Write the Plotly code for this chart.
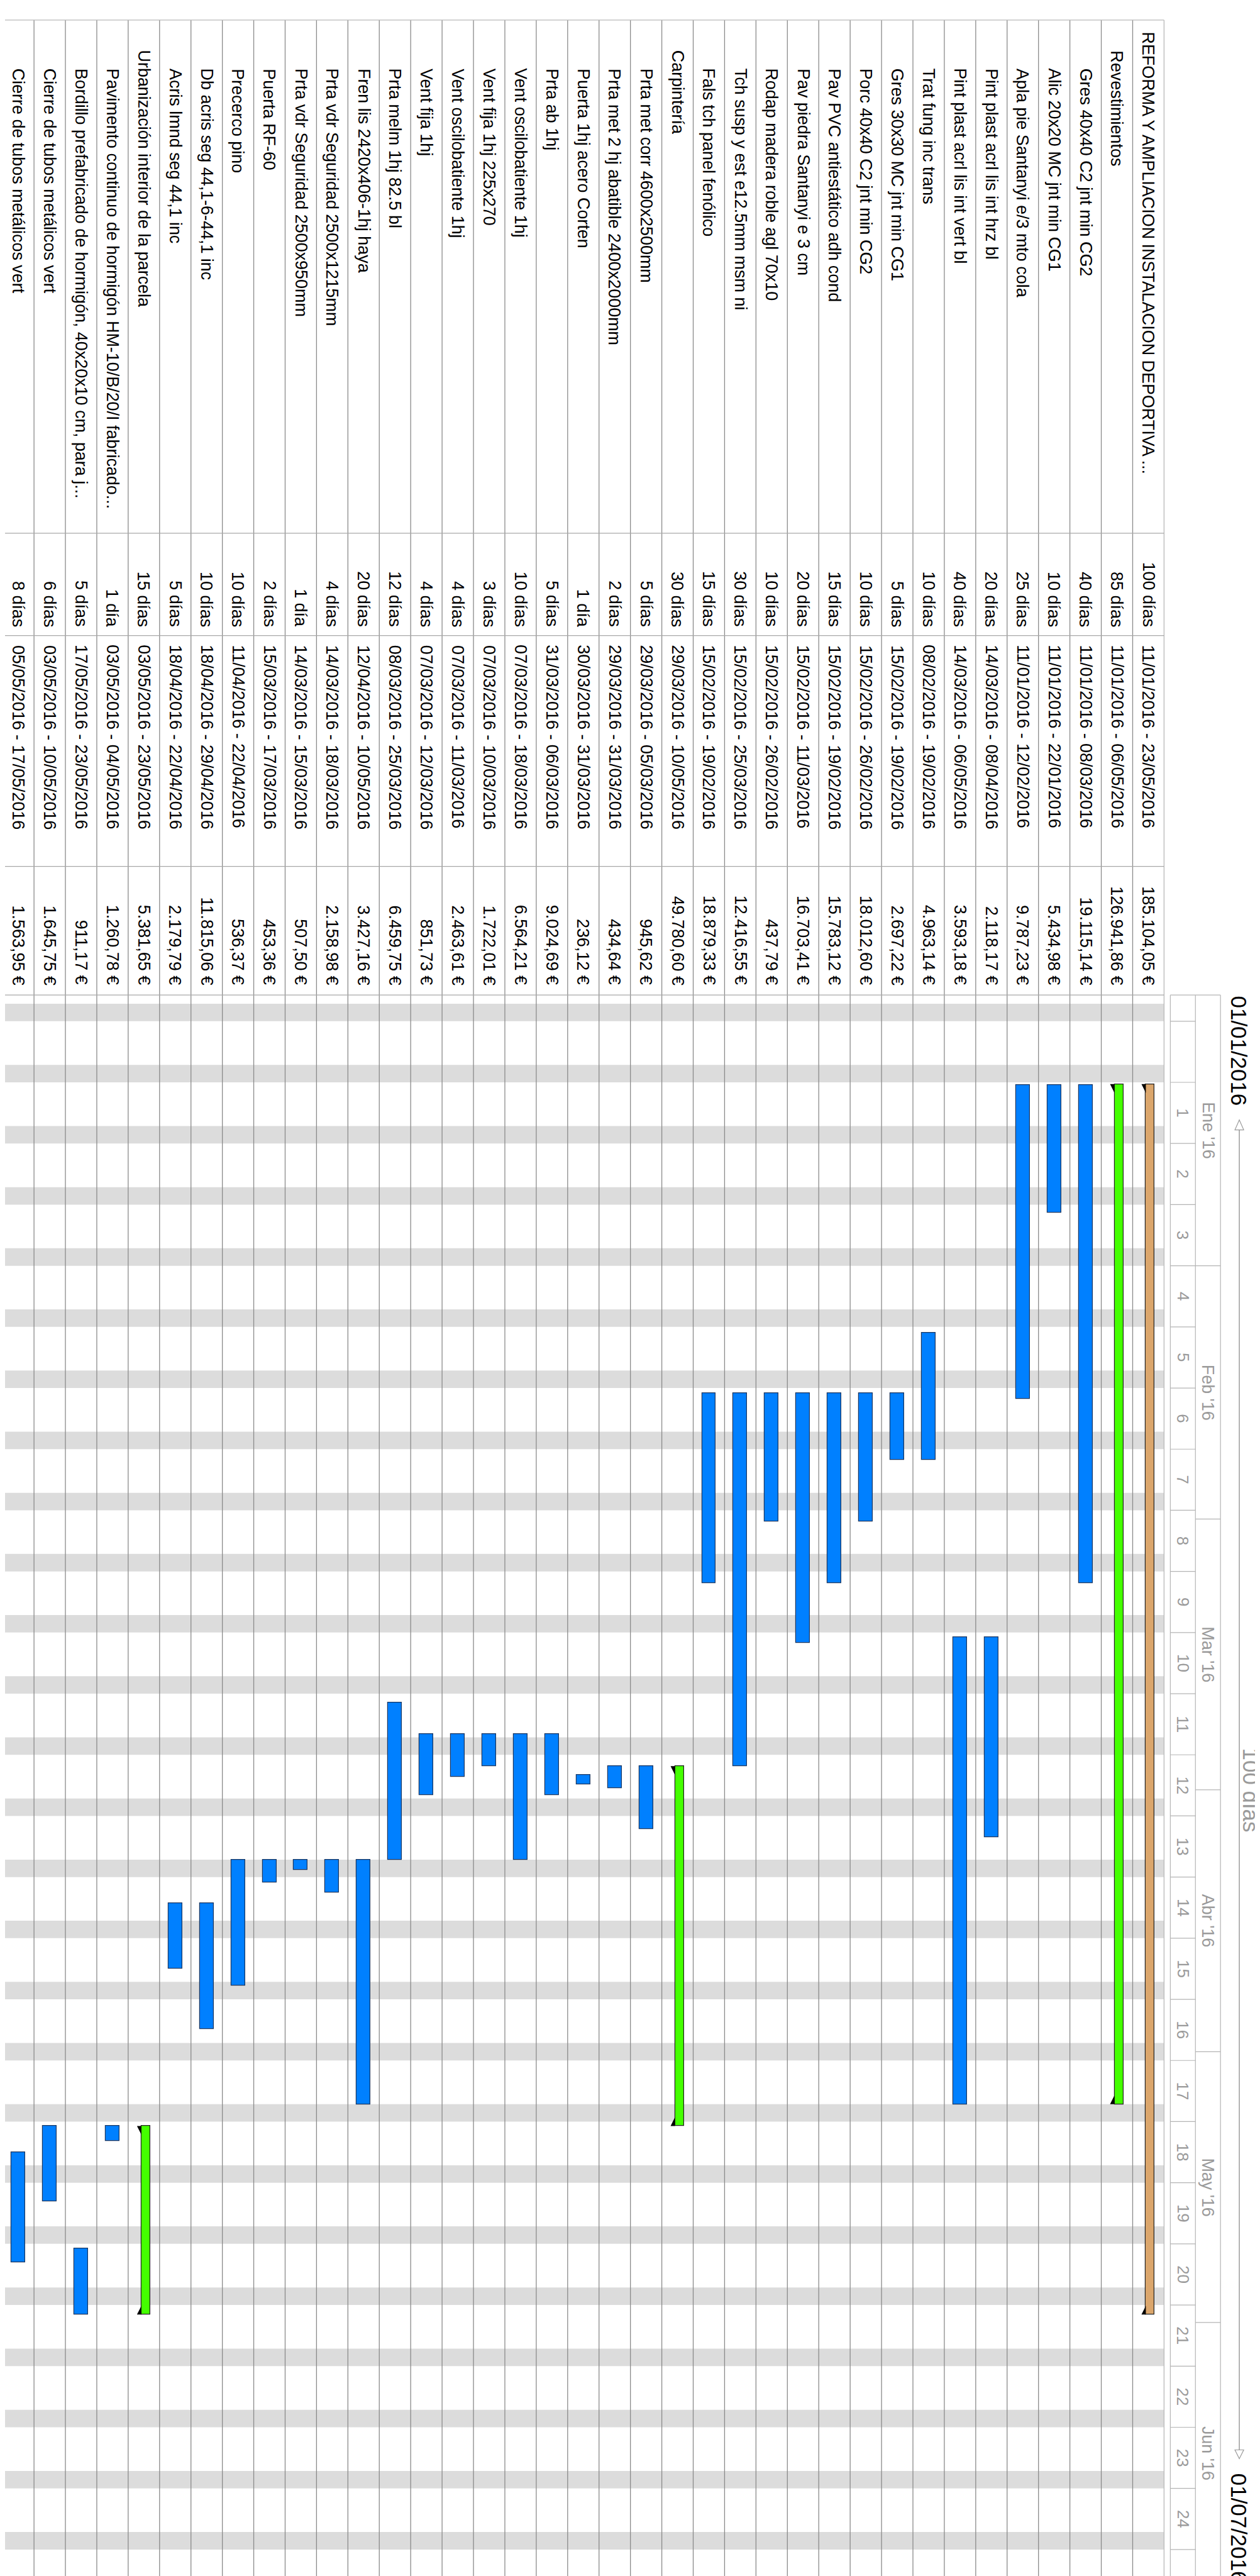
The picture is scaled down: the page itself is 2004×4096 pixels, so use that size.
import plotly.graph_objects as go
import pandas as pd

# ---------------- data ----------------
task_names = [
    "REFORMA Y AMPLIACION INSTALACION DEPORTIVA ...",
    "Revestimientos",
    "Gres 40x40 C2 jnt min CG2",
    "Alic 20x20 MC jnt min CG1",
    "Apla pie Santanyi e/3 mto cola",
    "Pint plast acrl lis int hrz bl",
    "Pint plast acrl lis int vert bl",
    "Trat fung inc trans",
    "Gres 30x30 MC jnt min CG1",
    "Porc 40x40 C2 jnt min CG2",
    "Pav PVC antiestático adh cond",
    "Pav piedra Santanyi e 3 cm",
    "Rodap madera roble agl 70x10",
    "Tch susp y est e12.5mm msm ni",
    "Fals tch panel fenólico",
    "Carpintería",
    "Prta met corr 4600x2500mm",
    "Prta met 2 hj abatible 2400x2000mm",
    "Puerta 1hj acero Corten",
    "Prta ab 1hj",
    "Vent oscilobatiente 1hj",
    "Vent fija 1hj 225x270",
    "Vent oscilobatiente 1hj",
    "Vent fija 1hj",
    "Prta melm 1hj 82.5 bl",
    "Fren lis 2420x406-1hj haya",
    "Prta vdr Seguridad 2500x1215mm",
    "Prta vdr Seguridad 2500x950mm",
    "Puerta RF-60",
    "Precerco pino",
    "Db acris seg 44,1-6-44,1 inc",
    "Acris lmnd seg 44,1 inc",
    "Urbanización interior de la parcela",
    "Pavimento continuo de hormigón HM-10/B/20/I fabricado...",
    "Bordillo prefabricado de hormigón, 40x20x10 cm, para j...",
    "Cierre de tubos metálicos vert",
    "Cierre de tubos metálicos vert",
]
task_levels = [0, 1] + [2] * 13 + [1] + [2] * 16 + [1] + [2] * 4
task_durations = [
    "100 días", "85 días", "40 días", "10 días", "25 días", "20 días", "40 días",
    "10 días", "5 días", "10 días", "15 días", "20 días", "10 días", "30 días",
    "15 días", "30 días", "5 días", "2 días", "1 día", "5 días", "10 días",
    "3 días", "4 días", "4 días", "12 días", "20 días", "4 días", "1 día",
    "2 días", "10 días", "10 días", "5 días", "15 días", "1 día", "5 días",
    "6 días", "8 días",
]
task_dates = [
    "11/01/2016 - 23/05/2016", "11/01/2016 - 06/05/2016", "11/01/2016 - 08/03/2016",
    "11/01/2016 - 22/01/2016", "11/01/2016 - 12/02/2016", "14/03/2016 - 08/04/2016",
    "14/03/2016 - 06/05/2016", "08/02/2016 - 19/02/2016", "15/02/2016 - 19/02/2016",
    "15/02/2016 - 26/02/2016", "15/02/2016 - 19/02/2016", "15/02/2016 - 11/03/2016",
    "15/02/2016 - 26/02/2016", "15/02/2016 - 25/03/2016", "15/02/2016 - 19/02/2016",
    "29/03/2016 - 10/05/2016", "29/03/2016 - 05/03/2016", "29/03/2016 - 31/03/2016",
    "30/03/2016 - 31/03/2016", "31/03/2016 - 06/03/2016", "07/03/2016 - 18/03/2016",
    "07/03/2016 - 10/03/2016", "07/03/2016 - 11/03/2016", "07/03/2016 - 12/03/2016",
    "08/03/2016 - 25/03/2016", "12/04/2016 - 10/05/2016", "14/03/2016 - 18/03/2016",
    "14/03/2016 - 15/03/2016", "15/03/2016 - 17/03/2016", "11/04/2016 - 22/04/2016",
    "18/04/2016 - 29/04/2016", "18/04/2016 - 22/04/2016", "03/05/2016 - 23/05/2016",
    "03/05/2016 - 04/05/2016", "17/05/2016 - 23/05/2016", "03/05/2016 - 10/05/2016",
    "05/05/2016 - 17/05/2016",
]
task_costs = [
    "185.104,05 €", "126.941,86 €", "19.115,14 €", "5.434,98 €", "9.787,23 €",
    "2.118,17 €", "3.593,18 €", "4.963,14 €", "2.697,22 €", "18.012,60 €",
    "15.783,12 €", "16.703,41 €", "437,79 €", "12.416,55 €", "18.879,33 €",
    "49.780,60 €", "945,62 €", "434,64 €", "236,12 €", "9.024,69 €",
    "6.564,21 €", "1.722,01 €", "2.463,61 €", "851,73 €", "6.459,75 €",
    "3.427,16 €", "2.158,98 €", "507,50 €", "453,36 €", "536,37 €",
    "11.815,06 €", "2.179,79 €", "5.381,65 €", "1.260,78 €", "911,17 €",
    "1.645,75 €", "1.563,95 €",
]
bar_kind = (["root", "summary"] + ["task"] * 13 + ["summary"] + ["task"] * 16
            + ["summary"] + ["task"] * 4)
# drawn bar extent, in days after 01/01/2016 (as seen in the picture)
bar_start_day = [
    10.2, 10.2, 10.3, 10.3, 10.3, 73.5, 73.5, 38.7, 45.6, 45.6, 45.6, 45.6, 45.6,
    45.6, 45.6, 88.3, 88.3, 88.3, 89.3, 84.6, 84.6, 84.6, 84.6, 84.6, 81.0, 99.0,
    99.0, 99.0, 99.0, 99.0, 104.0, 104.0, 129.5, 129.5, 143.5, 129.5, 132.5,
]
bar_end_day = [
    151.1, 127.0, 67.3, 24.9, 46.2, 96.4, 127.0, 53.2, 53.2, 60.3, 67.3, 74.2, 60.3,
    88.3, 67.3, 129.5, 95.5, 90.8, 90.4, 91.6, 99.0, 88.3, 89.5, 91.6, 99.0, 127.0,
    102.8, 100.2, 101.6, 113.4, 118.4, 111.5, 151.1, 131.2, 151.1, 138.1, 145.1,
]

week_labels = [str(k) for k in range(1, 25)]
first_week_date = "2016-01-11"   # week "1"
month_labels = ["Ene '16", "Feb '16", "Mar '16", "Abr '16", "May '16", "Jun '16"]
chart_start = "2016-01-01"
chart_end = "2016-07-01"
timeline_start_label = "01/01/2016"
timeline_end_label = "01/07/2016"
timeline_duration_label = "100 días"

# ---------------- layout constants (reference pixels) ----------------
REF_W, REF_H = 2009, 4106
OUT_W, OUT_H = 2004, 4096
S = OUT_W / REF_W
TABLE_RIGHT = 1848
ROW_PX = 50.05
GANTT_TOP = 1578
DAY_PX = 13.92
TABLE_TOP = 24
COL_LINES = [842, 1005, 1373, 1578]
NAME_START = {0: 42, 1: 71, 2: 100}
DUR_END = 992
DATE_START = 1019
COST_END = 1563
WEEK_COL = (1858, 1898)
MONTH_COL = (1898, 1938)
TL_X = 1968

FONT = "Liberation Sans, Arial, Helvetica, sans-serif"
FS = 27 * S
GRAY_TXT = "#9a9a9a"


def px(p):
    return p / REF_W


def py(p):
    return 1 - p / REF_H


t0 = pd.Timestamp(chart_start)
n_rows = len(task_names)
rows = list(range(n_rows))

fig = go.Figure()

# bars
colors = {"root": "#dba66c", "summary": "#44ff00", "task": "#0080ff"}
for kind in ["root", "summary", "task"]:
    idx = [i for i in rows if bar_kind[i] == kind]
    if kind == "task":
        width, offset, lc = 0.44, -0.22, "#1a3660"
    else:
        width, offset, lc = 0.28, -0.20, "#222222"
    fig.add_trace(go.Bar(
        x=idx,
        y=[bar_end_day[i] - bar_start_day[i] for i in idx],
        base=[bar_start_day[i] for i in idx],
        width=width, offset=offset,
        marker=dict(color=colors[kind], line=dict(color=lc, width=1.2)),
        hoverinfo="skip",
    ))

# summary end triangles
tx, ty = [], []
for i in rows:
    if bar_kind[i] == "task":
        continue
    s, e = bar_start_day[i], bar_end_day[i]
    tx += [i + 0.22, i + 0.08, i + 0.08, i + 0.22, None]
    ty += [s, s, s + 1.0, s, None]
    tx += [i + 0.08, i + 0.08, i + 0.22, i + 0.08, None]
    ty += [e - 1.0, e, e, e - 1.0, None]
fig.add_trace(go.Scatter(x=tx, y=ty, mode="lines", fill="toself",
                         fillcolor="#000000", line=dict(width=0, color="#000000"),
                         hoverinfo="skip"))

shapes = []
# weekend stripes
for d in pd.date_range(chart_start, chart_end):
    if d.dayofweek == 5:
        dd = (d - t0).days
        shapes.append(dict(type="rect", xref="paper", yref="y",
                           x0=0, x1=px(TABLE_RIGHT), y0=dd, y1=dd + 2,
                           fillcolor="#dcdcdc", line=dict(width=0), layer="below"))
# row separators (table + gantt)
for b in range(n_rows + 1):
    shapes.append(dict(type="line", xref="x", yref="paper",
                       x0=b - 0.5, x1=b - 0.5, y0=py(TABLE_TOP), y1=0,
                       line=dict(color="#b8b8b8" if b == 0 else "#8a8a8a", width=1.3 * S),
                       layer="below"))
# table column lines
shapes.append(dict(type="line", xref="paper", yref="paper", x0=0, x1=px(TABLE_RIGHT),
                   y0=py(TABLE_TOP), y1=py(TABLE_TOP),
                   line=dict(color="#b8b8b8", width=1.3 * S)))
for c in COL_LINES:
    shapes.append(dict(type="line", xref="paper", yref="paper", x0=0, x1=px(TABLE_RIGHT),
                       y0=py(c), y1=py(c), line=dict(color="#a8a8a8", width=1.3 * S)))

# header box
hdr_line = dict(color="#b4b4b4", width=1.2 * S)
for xx in [WEEK_COL[0], WEEK_COL[1], MONTH_COL[1]]:
    shapes.append(dict(type="line", xref="paper", yref="paper", x0=px(xx), x1=px(xx),
                       y0=py(GANTT_TOP), y1=0, line=hdr_line))
shapes.append(dict(type="line", xref="paper", yref="paper", x0=px(WEEK_COL[0]),
                   x1=px(MONTH_COL[1]), y0=py(GANTT_TOP), y1=py(GANTT_TOP), line=hdr_line))
fw = (pd.Timestamp(first_week_date) - t0).days
week_bounds = [fw - 7] + [fw + 7 * k for k in range(0, 25)]
for wb in week_bounds:
    shapes.append(dict(type="line", xref="paper", yref="y", x0=px(WEEK_COL[0]),
                       x1=px(WEEK_COL[1]), y0=wb, y1=wb, line=hdr_line))
month_starts = [(pd.Timestamp(f"2016-{m:02d}-01") - t0).days for m in range(1, 8)]
for mb in month_starts[1:]:
    shapes.append(dict(type="line", xref="paper", yref="y", x0=px(MONTH_COL[0]),
                       x1=px(MONTH_COL[1]), y0=mb, y1=mb, line=hdr_line))

# timeline arrow
tl_top, tl_bot = 1793, 3897
shapes.append(dict(type="line", xref="paper", yref="paper", x0=px(TL_X), x1=px(TL_X),
                   y0=py(tl_top), y1=py(tl_bot), line=dict(color="#9a9a9a", width=1.5 * S)))
shapes.append(dict(type="path", xref="paper", yref="paper",
                   path=f"M {px(TL_X)} {py(1777)} L {px(TL_X - 7)} {py(tl_top)} L {px(TL_X + 7)} {py(tl_top)} Z",
                   fillcolor="white", line=dict(color="#9a9a9a", width=1.2 * S)))
shapes.append(dict(type="path", xref="paper", yref="paper",
                   path=f"M {px(TL_X)} {py(3911)} L {px(TL_X - 7)} {py(tl_bot)} L {px(TL_X + 7)} {py(tl_bot)} Z",
                   fillcolor="white", line=dict(color="#9a9a9a", width=1.2 * S)))

annotations = []


def rot_text(text, x, y, xref, yref, yanchor, size=FS, color="#000000", xanchor="center"):
    annotations.append(dict(text=text, x=x, y=y, xref=xref, yref=yref,
                            xanchor=xanchor, yanchor=yanchor, textangle=90,
                            showarrow=False, borderpad=0,
                            font=dict(family=FONT, size=size, color=color)))


for i in rows:
    rot_text(task_names[i], i, py(NAME_START[task_levels[i]]), "x", "paper", "top")
    rot_text(task_durations[i], i, py(DUR_END), "x", "paper", "bottom")
    rot_text(task_dates[i], i, py(DATE_START), "x", "paper", "top")
    rot_text(task_costs[i], i, py(COST_END), "x", "paper", "bottom")

for k, lab in enumerate(week_labels):
    rot_text(lab, px((WEEK_COL[0] + WEEK_COL[1]) / 2), fw + 7 * k + 3.5, "paper", "y",
             "middle", size=26 * S, color=GRAY_TXT)
for m, lab in enumerate(month_labels):
    rot_text(lab, px((MONTH_COL[0] + MONTH_COL[1]) / 2),
             (month_starts[m] + month_starts[m + 1]) / 2, "paper", "y",
             "middle", size=27 * S, color=GRAY_TXT)

rot_text(timeline_start_label, px(TL_X - 1), py(GANTT_TOP), "paper", "paper", "top",
         size=35 * S, color="#000000")
rot_text(timeline_end_label, px(TL_X - 1), py(3933), "paper", "paper", "top",
         size=35 * S, color="#000000")
rot_text(timeline_duration_label, px(2007), py((tl_top + tl_bot) / 2), "paper", "paper",
         "middle", size=35 * S, color=GRAY_TXT, xanchor="right")

fig.update_layout(
    width=OUT_W, height=OUT_H,
    margin=dict(l=0, r=0, t=0, b=0),
    paper_bgcolor="white", plot_bgcolor="rgba(0,0,0,0)",
    showlegend=False, barmode="overlay", bargap=0,
    xaxis=dict(domain=[0, 1], visible=False, fixedrange=True,
               range=[TABLE_RIGHT / ROW_PX - 0.5, (TABLE_RIGHT - REF_W) / ROW_PX - 0.5]),
    yaxis=dict(domain=[0, 1 - GANTT_TOP / REF_H], visible=False, fixedrange=True,
               range=[(REF_H - GANTT_TOP) / DAY_PX, 0]),
    shapes=shapes, annotations=annotations,
)

fig.write_html("out.html")
